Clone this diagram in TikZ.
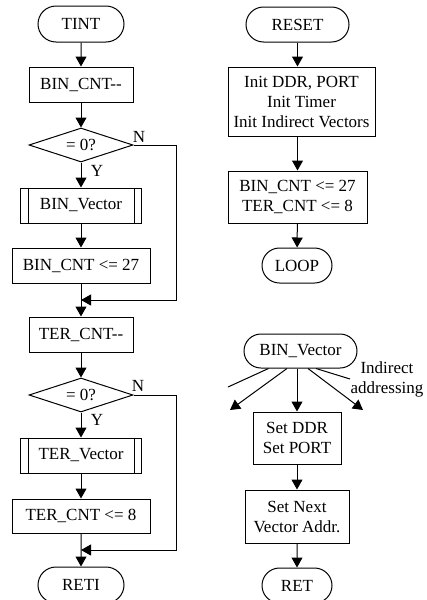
\documentclass[tikz,border=0pt]{standalone}
\usepackage{fontspec}
\setmainfont{Liberation Serif}
\usetikzlibrary{shapes.misc,shapes.geometric,arrows.meta}
\newcommand{\decr}{-\kern0pt-}

\begin{document}
\begin{tikzpicture}[x=0.5pt,y=-0.5pt,
  every node/.style={font=\fontsize{8.5}{10}\selectfont, inner sep=0pt, align=center},
  line/.style={line width=0.5pt},
  flow/.style={line width=0.5pt, -{Triangle[length=5pt,width=5.5pt]}},
  term/.style={draw, line width=0.5pt, rounded rectangle, minimum width=#1},
  proc/.style={draw, line width=0.5pt, rectangle, minimum width=#1, minimum height=17.5pt},
  decide/.style={draw, line width=0.5pt, diamond, aspect=3, minimum width=52pt, minimum height=17pt},
  sub/.style={draw, line width=0.5pt, rectangle, minimum width=60.5pt, minimum height=17.5pt},
]
\useasboundingbox (0,0) rectangle (427,600);

% ---- timer interrupt routine ----
\node[term=43pt, minimum height=18pt] (tint) at (81,24) {TINT};
\node[proc=52pt] (bdec) at (81,84.5) {BIN\_CNT\decr};
\node[decide] (bq) at (81,145) {= 0?};
\node[sub] (bvec) at (81,205.5) {BIN\_Vector};
\node[proc=69pt] (bset) at (81,265.5) {BIN\_CNT <= 27};
\coordinate (j1) at (81,300);
\coordinate (rb) at (176,300);
\node[proc=52pt] (tdec) at (81,334.5) {TER\_CNT\decr};
\node[decide] (tq) at (81,395) {= 0?};
\node[sub] (tvec) at (81,455.5) {TER\_Vector};
\node[proc=69pt, minimum height=17pt] (tset) at (81,516) {TER\_CNT <= 8};
\coordinate (j2) at (81,550);
\coordinate (rt) at (176,550);
\node[term=43pt, minimum height=18pt] (reti) at (81,585) {RETI};

% double side bars of the subroutine boxes
\foreach \n in {bvec,tvec}{
  \draw[line] ([xshift=4pt]\n.north west) -- ([xshift=4pt]\n.south west);
  \draw[line] ([xshift=-4pt]\n.north east) -- ([xshift=-4pt]\n.south east);
}

\node at (139,137) {N};
\node at (97,171) {Y};
\node at (138,386) {N};
\node at (97,420) {Y};

\draw[flow] (tint) -- (bdec);
\draw[flow] (bdec) -- (bq);
\draw[flow] (bq) -- (bvec);
\draw[flow] (bvec) -- (bset);
\draw[flow] (bset) -- (tdec);
\draw[flow] (bq.east) -| (rb) -- (j1);
\draw[flow] (tdec) -- (tq);
\draw[flow] (tq) -- (tvec);
\draw[flow] (tvec) -- (tset);
\draw[flow] (tset) -- (reti);
\draw[flow] (tq.east) -| (rt) -- (j2);

% ---- reset routine ----
\node[term=51.5pt, minimum height=17.5pt] (reset) at (297.5,24.5) {RESET};
\node[proc=73.5pt, minimum height=34.5pt] (init) at (301.5,101.5) {Init DDR, PORT\\Init Timer\\Init Indirect Vectors};
\node[proc=69.5pt, minimum height=26pt] (cnt) at (297.5,197) {BIN\_CNT <= 27\\TER\_CNT <= 8};
\node[term=35pt, minimum height=17.5pt] (loop) at (297,265.5) {LOOP};

\draw[flow] (reset.south) -- (reset.south |- init.north);
\draw[flow] (reset.south |- init.south) -- (cnt.north);
\draw[flow] (cnt) -- (loop);

% ---- vector subroutine ----
\node[term=56.5pt, minimum height=17pt] (bvr) at (300.5,351) {BIN\_Vector};
\node[proc=44pt, minimum height=26pt] (ddr) at (297,438) {Set DDR\\Set PORT};
\node[proc=52pt, minimum height=26.5pt] (next) at (297,516.5) {Set Next\\Vector Addr.};
\node[term=35pt, minimum height=17.5pt] (ret) at (297,585.5) {RET};
\node (ind) at (387,379) {Indirect\\addressing};

\coordinate (fl) at (228,387);
\coordinate (fa) at (230,410);
\coordinate (fb) at (363,410);
\coordinate (fc) at (350,379);

\draw[line] ([xshift=-16pt]bvr.south) -- (fl);
\draw[flow] ([xshift=-6.75pt]bvr.south) -- (fa);
\draw[flow] (ddr.north |- bvr.south) -- (ddr.north);
\draw[flow] ([xshift=3.75pt]bvr.south) -- (fb);
\draw[line] ([xshift=7.75pt]bvr.south) -- (fc);
\draw[flow] (ddr) -- (next);
\draw[flow] (next) -- (ret);
\end{tikzpicture}
\end{document}
